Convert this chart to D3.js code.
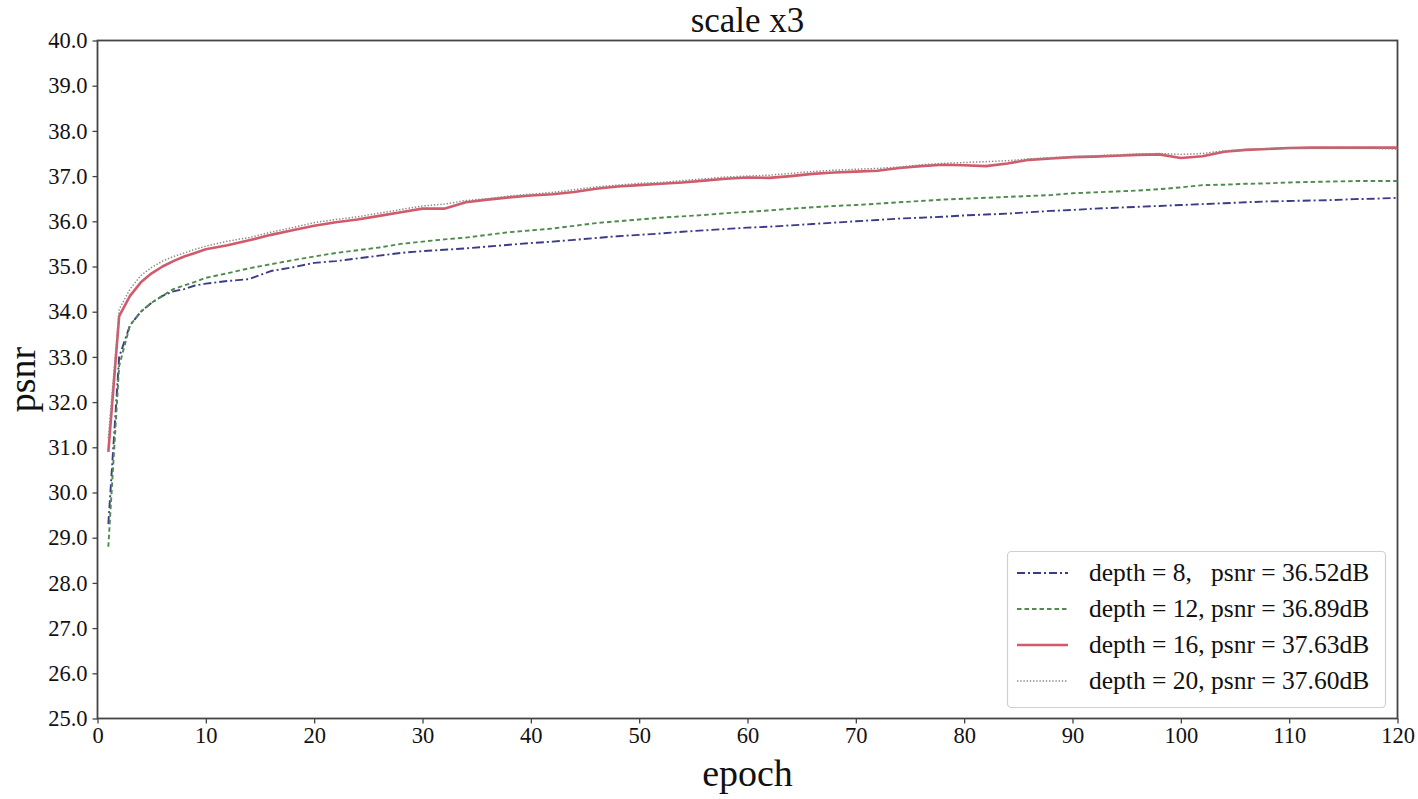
<!DOCTYPE html>
<html>
<head>
<meta charset="utf-8">
<script src="https://cdn.jsdelivr.net/npm/d3@7"></script>
<style>
  html, body { margin: 0; padding: 0; background: #fff; }
  svg { display: block; }
  text { font-family: "Liberation Serif", "Times New Roman", serif; fill: #111; }
</style>
</head>
<body>
<svg id="chart" width="1418" height="799"></svg>
<script>
const epochs = [1,2,3,4,5,6,7,8,9,10,12,14,16,18,20,22,24,26,28,30,32,34,36,38,40,42,44,46,48,50,52,54,56,58,60,62,64,66,68,70,72,74,76,78,80,82,84,86,88,90,92,94,96,98,100,102,104,106,108,110,112,114,116,118,120];

const depth8 = [29.3,33.0,33.7,34.0,34.2,34.35,34.45,34.5,34.58,34.62,34.68,34.72,34.9,34.98,35.08,35.12,35.18,35.24,35.3,35.34,35.37,35.4,35.44,35.48,35.52,35.55,35.59,35.63,35.67,35.7,35.73,35.77,35.8,35.83,35.86,35.88,35.91,35.94,35.97,36.0,36.03,36.06,36.08,36.1,36.13,36.15,36.17,36.2,36.23,36.25,36.28,36.3,36.32,36.34,36.36,36.38,36.4,36.42,36.44,36.45,36.46,36.47,36.49,36.5,36.52];

const depth12 = [28.8,32.8,33.7,34.0,34.2,34.35,34.5,34.58,34.66,34.75,34.85,34.96,35.05,35.14,35.22,35.3,35.36,35.42,35.5,35.55,35.6,35.64,35.7,35.76,35.8,35.84,35.9,35.96,36.0,36.04,36.08,36.11,36.14,36.18,36.21,36.24,36.28,36.31,36.34,36.36,36.39,36.42,36.45,36.48,36.5,36.52,36.54,36.56,36.58,36.62,36.64,36.66,36.68,36.71,36.75,36.8,36.81,36.83,36.84,36.86,36.87,36.88,36.89,36.89,36.89];

const depth16 = [30.9,33.9,34.35,34.65,34.85,35.0,35.12,35.22,35.3,35.38,35.47,35.58,35.7,35.8,35.9,35.98,36.04,36.12,36.2,36.28,36.28,36.42,36.48,36.53,36.57,36.6,36.65,36.72,36.77,36.8,36.83,36.86,36.9,36.94,36.97,36.96,37.0,37.05,37.08,37.1,37.12,37.18,37.22,37.25,37.24,37.22,37.28,37.36,37.39,37.42,37.43,37.45,37.47,37.48,37.4,37.44,37.54,37.58,37.6,37.62,37.63,37.63,37.63,37.63,37.63];

const depth20 = [31.2,34.05,34.5,34.8,34.98,35.12,35.22,35.3,35.38,35.45,35.56,35.64,35.76,35.86,35.97,36.04,36.1,36.18,36.26,36.34,36.38,36.46,36.5,36.56,36.6,36.64,36.7,36.76,36.8,36.84,36.86,36.9,36.94,36.98,37.0,37.02,37.06,37.1,37.13,37.15,37.17,37.2,37.25,37.28,37.3,37.32,37.34,37.38,37.41,37.43,37.45,37.47,37.49,37.5,37.48,37.5,37.56,37.59,37.61,37.61,37.61,37.61,37.61,37.61,37.6];

const seriesNames = ["depth = 8,\u00a0\u00a0\u00a0psnr = 36.52dB", "depth = 12, psnr = 36.89dB", "depth = 16, psnr = 37.63dB", "depth = 20, psnr = 37.60dB"];
const xTicks = [0,10,20,30,40,50,60,70,80,90,100,110,120];
const yTicks = [25,26,27,28,29,30,31,32,33,34,35,36,37,38,39,40];

const styles = [
  { color: "#3c3c86", width: 1.9, dash: "8,3,2,3" },
  { color: "#4f8a4f", width: 1.9, dash: "4.5,3" },
  { color: "#d35a6a", width: 2.6, dash: null },
  { color: "#8a8a8a", width: 1.5, dash: "1.4,1.8" }
];

const svg = d3.select("#chart");
const margin = { left: 97.5, right: 20.5, top: 40.5, bottom: 80.5 };
const W = 1418, H = 799;
const x = d3.scaleLinear().domain([0, 120]).range([margin.left, W - margin.right]);
const y = d3.scaleLinear().domain([25, 40]).range([H - margin.bottom, margin.top]);

// axes
const xAxis = svg.append("g")
  .attr("transform", `translate(0,${y(25)})`)
  .call(d3.axisBottom(x).tickValues(xTicks).tickFormat(d3.format("d")).tickSizeOuter(0).tickSize(5).tickPadding(4));
const yAxis = svg.append("g")
  .attr("transform", `translate(${x(0)},0)`)
  .call(d3.axisLeft(y).tickValues(yTicks).tickFormat(d3.format(".1f")).tickSizeOuter(0).tickSize(5).tickPadding(5));
[xAxis, yAxis].forEach(g => {
  g.select(".domain").remove();
  g.selectAll(".tick line").attr("stroke", "#444").attr("stroke-width", 1.3);
  g.selectAll(".tick text").style("font-family", "Liberation Serif, serif").style("font-size", "22.5px").attr("fill", "#111");
});

// frame
svg.append("rect")
  .attr("x", x(0)).attr("y", y(40))
  .attr("width", x(120) - x(0)).attr("height", y(25) - y(40))
  .attr("fill", "none").attr("stroke", "#444").attr("stroke-width", 1.8);

// lines
const all = [depth8, depth12, depth16, depth20];
const line = d3.line().x((d, i) => x(epochs[i])).y(d => y(d));
all.forEach((vals, k) => {
  const p = svg.append("path")
    .datum(vals)
    .attr("d", line)
    .attr("fill", "none")
    .attr("stroke", styles[k].color)
    .attr("stroke-width", styles[k].width)
    .attr("stroke-linejoin", "round");
  if (styles[k].dash) p.attr("stroke-dasharray", styles[k].dash);
});

// title & labels
svg.append("text").attr("x", (x(0) + x(120)) / 2).attr("y", 32)
  .attr("text-anchor", "middle").style("font-size", "35px").text("scale x3");
svg.append("text").attr("x", (x(0) + x(120)) / 2).attr("y", 786)
  .attr("text-anchor", "middle").style("font-size", "38px").text("epoch");
svg.append("text").attr("transform", `translate(35,${(y(25) + y(40)) / 2}) rotate(-90)`)
  .attr("text-anchor", "middle").style("font-size", "38px").text("psnr");

// legend
const lg = svg.append("g");
lg.append("rect").attr("x", 1007.5).attr("y", 551.5).attr("width", 378).attr("height", 156).attr("rx", 4)
  .attr("fill", "#fff").attr("stroke", "#d0d0d0").attr("stroke-width", 1.2);
seriesNames.forEach((name, k) => {
  const cy = 573 + k * 36;
  const l = lg.append("line").attr("x1", 1017).attr("x2", 1068).attr("y1", cy).attr("y2", cy)
    .attr("stroke", styles[k].color).attr("stroke-width", styles[k].width);
  if (styles[k].dash) l.attr("stroke-dasharray", styles[k].dash);
  lg.append("text").attr("x", 1089).attr("y", cy + 8).style("font-size", "25.5px").text(name);
});
</script>
</body>
</html>
